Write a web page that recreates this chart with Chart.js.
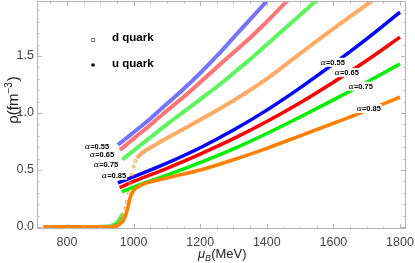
<!DOCTYPE html>
<html>
<head>
<meta charset="utf-8">
<script src="https://cdn.jsdelivr.net/npm/chart.js@4.4.0/dist/chart.umd.min.js"></script>
<style>
  html, body { margin: 0; padding: 0; background: #fff; }
  #wrap { width: 415px; height: 263px; }
</style>
</head>
<body>
<div id="wrap"><canvas id="rhoChart"></canvas></div>
<script>
// axis ticks
const xTicks = [800, 1000, 1200, 1400, 1600, 1800];
const yTicks = [0.0, 0.5, 1.0, 1.5];
const alphaLabels = ['0.55', '0.65', '0.75', '0.85'];

// alpha = 0.55 (blue)
const muLowBlue = [730, 850, 930, 945, 952];
const rhoLowBlue = [0, 0, 0, 0.01, 0.02];
const muBlueU = [953, 1000, 1100, 1200, 1300, 1400, 1500, 1600, 1700, 1800];
const rhoBlueU = [0.386, 0.44, 0.56, 0.695, 0.85, 1.025, 1.22, 1.43, 1.65, 1.885];
const muBlueD = [953, 1000, 1050, 1100, 1150, 1200, 1250, 1300, 1350, 1400, 1450];
const rhoBlueD = [0.72, 0.83, 0.95, 1.08, 1.21, 1.35, 1.50, 1.66, 1.82, 1.98, 2.14];

// alpha = 0.65 (red)
const muLowRed = [730, 850, 930, 945, 955, 958];
const rhoLowRed = [0, 0, 0, 0.01, 0.03, 0.04];
const muRedU = [958, 1000, 1100, 1200, 1300, 1400, 1500, 1600, 1700, 1800];
const rhoRedU = [0.345, 0.40, 0.515, 0.64, 0.775, 0.925, 1.09, 1.27, 1.46, 1.665];
const muRedD = [959, 1000, 1050, 1100, 1150, 1200, 1250, 1300, 1350, 1400, 1450, 1500];
const rhoRedD = [0.675, 0.775, 0.895, 1.02, 1.14, 1.27, 1.40, 1.53, 1.66, 1.80, 1.95, 2.10];

// alpha = 0.75 (green)
const muLowGreenU = [730, 850, 930, 950, 960, 967];
const rhoLowGreenU = [0, 0, 0, 0.02, 0.05, 0.08];
const muLowGreenD = [730, 850, 930, 950, 960, 968];
const rhoLowGreenD = [0, 0, 0.01, 0.04, 0.08, 0.12];
const muGreenU = [965, 1000, 1100, 1200, 1300, 1400, 1500, 1600, 1700, 1800];
const rhoGreenU = [0.31, 0.35, 0.455, 0.565, 0.685, 0.82, 0.965, 1.115, 1.27, 1.43];
const muGreenD = [966, 1000, 1050, 1100, 1150, 1200, 1250, 1300, 1350, 1400, 1450, 1500, 1550, 1600];
const rhoGreenD = [0.59, 0.67, 0.785, 0.90, 1.01, 1.12, 1.23, 1.35, 1.47, 1.60, 1.73, 1.86, 1.99, 2.12];

// alpha = 0.85 (orange), crossover
const muOrangeU = [730, 850, 930, 950, 960, 970, 980, 990, 1000, 1025, 1050, 1100, 1200, 1300, 1400, 1500, 1600, 1700, 1800];
const rhoOrangeU = [0, 0, 0, 0.01, 0.03, 0.06, 0.14, 0.26, 0.32, 0.37, 0.395, 0.43, 0.50, 0.59, 0.69, 0.80, 0.91, 1.02, 1.14];
const muLowOrangeD = [730, 850, 930, 950, 960, 966];
const rhoLowOrangeD = [0, 0, 0, 0.01, 0.04, 0.08];
const muRiseOrangeD = [970, 975, 980, 985, 990, 995, 1000, 1005];
const rhoRiseOrangeD = [0.10, 0.16, 0.22, 0.30, 0.38, 0.46, 0.53, 0.58];
const muOrangeD = [1010, 1025, 1050, 1100, 1150, 1200, 1300, 1400, 1500, 1600, 1700, 1800];
const rhoOrangeD = [0.605, 0.65, 0.695, 0.78, 0.86, 0.94, 1.11, 1.30, 1.52, 1.74, 1.95, 2.17];

// where the alpha labels sit (data coords)
const leftLabelMu = [890, 905, 917, 941];
const leftLabelRho = [0.70, 0.63, 0.545, 0.45];
const rightLabelMu = [1598, 1640, 1682, 1706];
const rightLabelRho = [1.44, 1.35, 1.23, 1.035];

function pts(mu, rho) {
    return mu.map((m, i) => ({ x: m, y: rho[i] }));
}

function uLine(mu, rho, color, order) {
    return { data: pts(mu, rho), showLine: true, borderColor: color, borderWidth: 3.5,
             pointRadius: 0, cubicInterpolationMode: 'monotone', order: order };
}
function dLine(mu, rho, color, order) {
    return { data: pts(mu, rho), showLine: true, borderColor: color, borderWidth: 4,
             pointRadius: 0, cubicInterpolationMode: 'monotone', order: order };
}

const blue = '#0000ff', red = '#ff0000', green = '#00f000', orange = '#ff8000';
const blueD = 'rgba(70,70,255,0.75)', redD = 'rgba(255,70,70,0.75)';
const greenD = 'rgba(40,240,40,0.75)', orangeD = 'rgba(255,150,60,0.8)';

const datasets = [
    dLine(muLowBlue, rhoLowBlue, blueD, 9),
    dLine(muBlueD, rhoBlueD, blueD, 9),
    uLine(muBlueU, rhoBlueU, blue, 5),
    dLine(muLowRed, rhoLowRed, redD, 8),
    dLine(muRedD, rhoRedD, redD, 8),
    uLine(muRedU, rhoRedU, red, 4),
    dLine(muLowGreenD, rhoLowGreenD, greenD, 7),
    dLine(muGreenD, rhoGreenD, greenD, 7),
    uLine(muLowGreenU, rhoLowGreenU, green, 3),
    uLine(muGreenU, rhoGreenU, green, 3),
    dLine(muLowOrangeD, rhoLowOrangeD, orangeD, 2),
    { data: pts(muRiseOrangeD, rhoRiseOrangeD), showLine: false, pointStyle: 'rect',
      pointRadius: 1.8, pointBorderWidth: 1, borderColor: orangeD,
      backgroundColor: 'rgba(255,255,255,0)', order: 2 },
    dLine(muOrangeD, rhoOrangeD, orangeD, 2),
    uLine(muOrangeU, rhoOrangeU, orange, 0)
];

const frameColor = '#b4b4b4';

const framePlugin = {
    id: 'frame',
    afterDatasetsDraw(chart) {
        const { ctx, chartArea: a, scales: { x, y } } = chart;
        ctx.save();
        ctx.strokeStyle = frameColor;
        ctx.lineWidth = 1;
        ctx.strokeRect(a.left + 0.5, a.top + 0.5, a.right - a.left - 1, a.bottom - a.top - 1);
        ctx.beginPath();
        for (let v = 750; v <= 1800; v += 50) {
            const px = Math.round(x.getPixelForValue(v)) + 0.5;
            const len = v % 200 === 0 ? 5 : 2.5;
            ctx.moveTo(px, a.bottom); ctx.lineTo(px, a.bottom - len);
            ctx.moveTo(px, a.top); ctx.lineTo(px, a.top + len);
        }
        for (let k = 0; k <= 19; k++) {
            const v = k / 10;
            const py = Math.round(y.getPixelForValue(v)) + 0.5;
            const len = k % 5 === 0 ? 5 : 2.5;
            ctx.moveTo(a.left, py); ctx.lineTo(a.left + len, py);
            ctx.moveTo(a.right, py); ctx.lineTo(a.right - len, py);
        }
        ctx.stroke();

        // alpha labels
        const drawAlpha = (mu, rho, txt) => {
            const cx = x.getPixelForValue(mu), cy = y.getPixelForValue(rho);
            ctx.font = 'italic 8px "DejaVu Serif"';
            const wa = ctx.measureText('α').width;
            ctx.font = 'bold 7.5px "Liberation Sans"';
            const wb = ctx.measureText('=' + txt).width;
            const w = wa + wb;
            ctx.fillStyle = '#fff';
            ctx.fillRect(cx - w / 2 - 1, cy - 5, w + 2, 9);
            ctx.fillStyle = '#000';
            ctx.textBaseline = 'middle';
            ctx.textAlign = 'left';
            ctx.font = 'italic 8px "DejaVu Serif"';
            ctx.fillText('α', cx - w / 2, cy);
            ctx.font = 'bold 7.5px "Liberation Sans"';
            ctx.fillText('=' + txt, cx - w / 2 + wa, cy);
        };
        alphaLabels.forEach((t, i) => {
            drawAlpha(leftLabelMu[i], leftLabelRho[i], t);
            drawAlpha(rightLabelMu[i], rightLabelRho[i], t);
        });

        // legend
        ctx.strokeStyle = '#888';
        ctx.lineWidth = 1;
        ctx.strokeRect(91.5, 38.5, 3, 3);
        ctx.fillStyle = '#000';
        ctx.beginPath();
        ctx.arc(93, 65, 1.8, 0, Math.PI * 2);
        ctx.fill();
        ctx.font = 'bold 11.5px "Liberation Sans"';
        ctx.textBaseline = 'alphabetic';
        ctx.fillText('d quark', 112, 41);
        ctx.fillText('u quark', 112, 67);

        // axis titles
        ctx.fillStyle = '#222';
        ctx.font = 'italic 13px "Liberation Sans"';
        const muW = ctx.measureText('μ').width;
        let tx = 198;
        ctx.fillText('μ', tx, 258);
        tx += muW;
        ctx.font = 'italic 9px "Liberation Sans"';
        ctx.fillText('B', tx, 261);
        tx += ctx.measureText('B').width;
        ctx.font = '13px "Liberation Sans"';
        ctx.fillText('(MeV)', tx, 258);

        // rotated y title with a real superscript
        const partA = 'ρ(fm', partB = '−3', partC = ')';
        ctx.font = '15px "Liberation Sans"';
        const wA = ctx.measureText(partA).width, wC = ctx.measureText(partC).width;
        ctx.font = '10px "Liberation Sans"';
        const wB = ctx.measureText(partB).width;
        const total = wA + wB + wC + 1;
        ctx.translate(18, 100);
        ctx.rotate(-Math.PI / 2);
        ctx.textAlign = 'left';
        let ty = -total / 2;
        ctx.font = '15px "Liberation Sans"';
        ctx.fillText(partA, ty, 0);
        ty += wA;
        ctx.font = '10px "Liberation Sans"';
        ctx.fillText(partB, ty, -6);
        ty += wB + 1;
        ctx.font = '15px "Liberation Sans"';
        ctx.fillText(partC, ty, 0);
        ctx.restore();
    }
};

new Chart(document.getElementById('rhoChart'), {
    type: 'scatter',
    data: { datasets: datasets },
    plugins: [framePlugin],
    options: {
        responsive: true,
        maintainAspectRatio: false,
        animation: false,
        layout: { autoPadding: false, padding: { top: 1, right: 9, left: 0, bottom: 0 } },
        plugins: { legend: { display: false }, tooltip: { enabled: false } },
        scales: {
            x: {
                type: 'linear', min: 710, max: 1818,
                grid: { display: false, drawTicks: false },
                border: { display: false },
                afterBuildTicks: s => { s.ticks = xTicks.map(v => ({ value: v })); },
                afterFit: s => { s.height = 34; s.paddingLeft = 0; s.paddingRight = 0; },
                ticks: { color: '#444', padding: 6, maxRotation: 0,
                         callback: v => String(v),
                         font: { family: 'Liberation Sans', size: 12.5 } }
            },
            y: {
                type: 'linear', min: -0.0175, max: 1.982,
                grid: { display: false, drawTicks: false },
                border: { display: false },
                afterBuildTicks: s => { s.ticks = yTicks.map(v => ({ value: v })); },
                afterFit: s => { s.width = 37; s.paddingTop = 0; s.paddingBottom = 0; },
                ticks: { color: '#444', padding: 3,
                         callback: v => v.toFixed(1),
                         font: { family: 'Liberation Sans', size: 12.5 } }
            }
        }
    }
});
</script>
</body>
</html>
